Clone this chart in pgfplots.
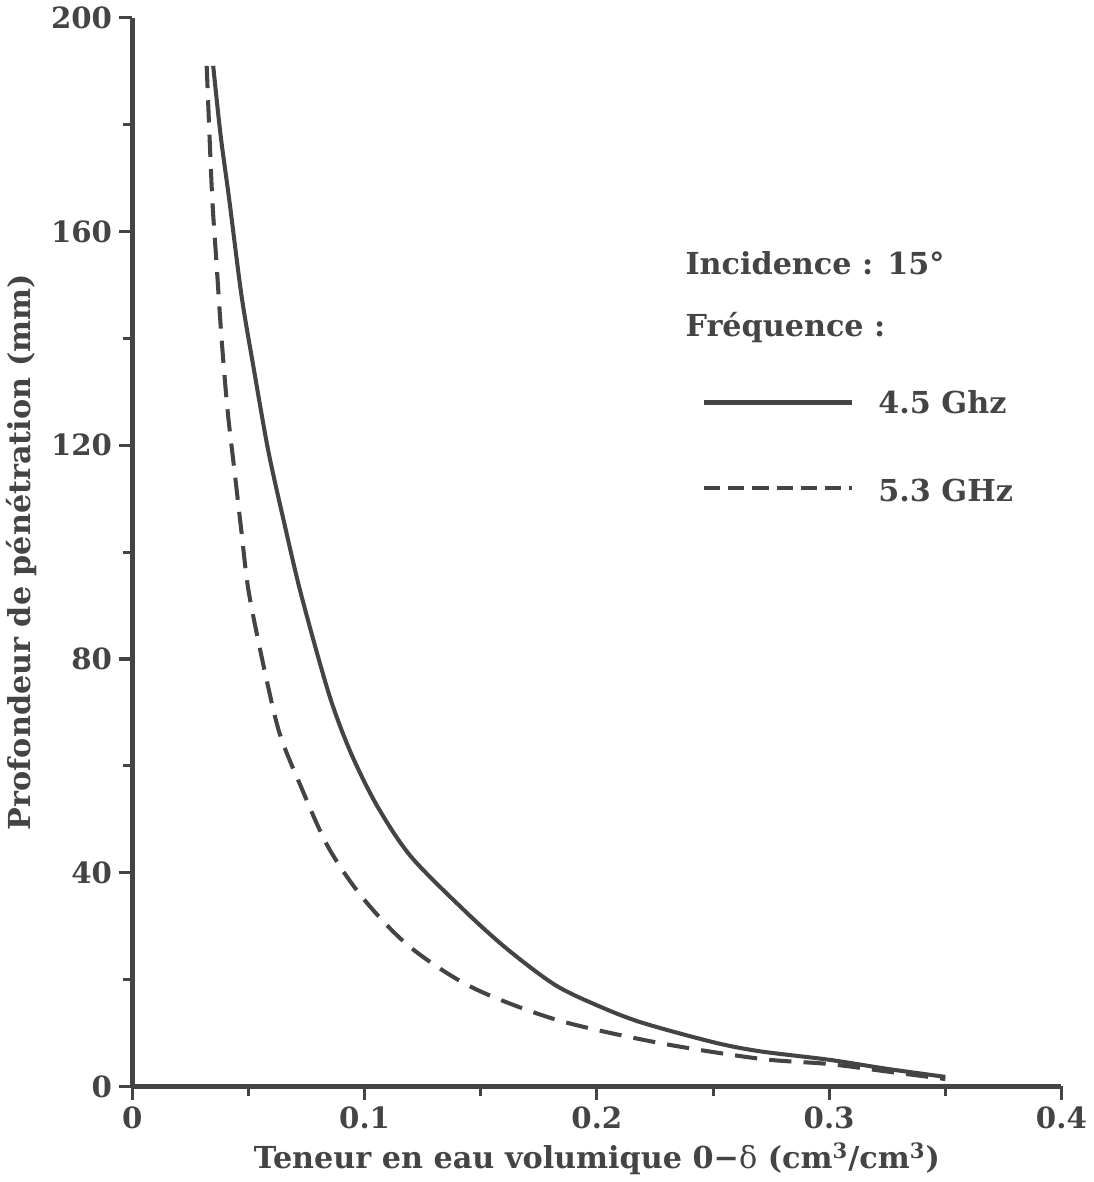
\documentclass[border=0pt]{standalone}
\usepackage{fontspec}
\setmainfont{DejaVu Serif}
\usepackage{pgfplots}
\usepackage{pgfplotstable}
\pgfplotsset{compat=1.18}
\definecolor{ink}{RGB}{68,68,68}

% 4.5 GHz
\pgfplotstableread{
x y
0.0348 191
0.0380 178
0.0417 166
0.0470 148
0.0524 134
0.0585 119
0.0651 106
0.0727 92
0.0846 73.5
0.0940 62.5
0.1054 52.5
0.1200 43
0.1440 32.5
0.1620 25.5
0.1820 19
0.2000 15.2
0.2190 12
0.2500 8.3
0.2700 6.6
0.3000 5
0.3250 3.3
0.3500 1.8
}\solid

% 5.3 GHz
\pgfplotstableread{
x y
0.0320 191
0.0343 167
0.0362 154.3
0.0384 140
0.0410 126.5
0.0440 115.1
0.0470 103.7
0.0502 92.3
0.0576 76.5
0.0636 65.8
0.0724 56.3
0.0842 44.9
0.0990 35.4
0.1190 26.3
0.1460 18.6
0.1825 12.5
0.2262 8.2
0.2700 5.2
0.3000 4.2
0.3250 2.8
0.3500 1.4
}\dashed

\begin{document}
\begin{tikzpicture}
\begin{axis}[
    scale only axis,
    width=459bp,
    height=528bp,
    xmin=0, xmax=0.4,
    ymin=0, ymax=200,
    axis lines*=left,
    axis line style={ink, line width=2.5bp},
    xtick={0,0.1,0.2,0.3,0.4},
    xticklabels={0,0.1,0.2,0.3,0.4},
    ytick={0,40,80,120,160,200},
    minor x tick num=1,
    minor y tick num=1,
    tick align=outside,
    major tick length=6.5bp,
    minor tick length=4.5bp,
    every tick/.style={ink, line width=1.5bp},
    tick label style={font=\fontsize{14.5}{16}\selectfont\bfseries, text=ink},
    /pgf/number format/assume math mode=true,
    label style={font=\fontsize{15}{18}\selectfont\bfseries, text=ink},
    xlabel={Teneur en eau volumique 0−{\mdseries δ} (cm\textsuperscript{3}/cm\textsuperscript{3})},
    ylabel={Profondeur de pénétration (mm)},
    clip=false,
]
\addplot[ink, line width=2bp, smooth] table[x=x, y=y] {\solid};
\addplot[ink, line width=2bp, dash pattern=on 11bp off 6bp, smooth] table[x=x, y=y] {\dashed};

\node[anchor=west, text=ink, font=\fontsize{15}{18}\selectfont\bfseries, inner sep=0pt]
    at (axis cs:0.238,154) {Incidence : 15°};
\node[anchor=west, text=ink, font=\fontsize{15}{18}\selectfont\bfseries, inner sep=0pt]
    at (axis cs:0.238,142) {Fréquence :};
\draw[ink, line width=2bp] (axis cs:0.246,128) -- (axis cs:0.310,128);
\node[anchor=west, text=ink, font=\fontsize{15}{18}\selectfont\bfseries, inner sep=0pt]
    at (axis cs:0.321,128) {4.5 Ghz};
\draw[ink, line width=2bp, dash pattern=on 8bp off 4bp] (axis cs:0.246,112) -- (axis cs:0.310,112);
\node[anchor=west, text=ink, font=\fontsize{15}{18}\selectfont\bfseries, inner sep=0pt]
    at (axis cs:0.321,111.5) {5.3 GHz};
\end{axis}
\end{tikzpicture}
\end{document}
